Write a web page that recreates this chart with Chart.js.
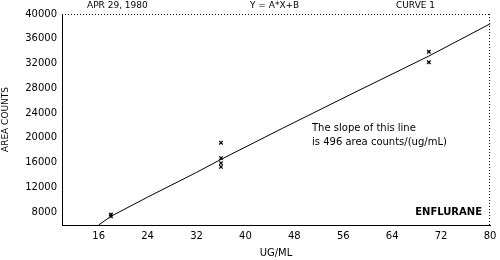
<!DOCTYPE html>
<html>
<head>
<meta charset="utf-8">
<script src="https://cdn.jsdelivr.net/npm/chart.js@4.4.0/dist/chart.umd.min.js"></script>
<style>
  html, body { margin: 0; padding: 0; background: #fff; }
  #wrap { position: relative; width: 500px; height: 260px; }
</style>
</head>
<body>
<div id="wrap"><canvas id="myChart" width="500" height="260"></canvas></div>
<script>
// calibration curve, enfluran (area counts vs ug/mL)

let lineX = [16, 18, 24, 32, 36, 46, 57, 70, 80];
let lineY = [5900, 7300, 10400, 14400, 16500, 21500, 26900, 33200, 38400];

let pointX = [18, 18, 36, 36, 36, 36, 70, 70];
let pointY = [7600, 7300, 19200, 16700, 15900, 15300, 33900, 32200];

let xTicks = [16, 24, 32, 40, 48, 56, 64, 72, 80];
let yTicks = [8000, 12000, 16000, 20000, 24000, 28000, 32000, 36000, 40000];

let font = 'DejaVu Sans';

// dotted top / right edges and header texts
let framePlugin = {
    id: 'frame',
    afterDraw(chart) {
        let ctx = chart.ctx;
        let a = chart.chartArea;
        ctx.save();
        ctx.strokeStyle = '#000';
        ctx.lineWidth = 1;
        ctx.setLineDash([1, 2]);
        ctx.beginPath();
        ctx.moveTo(a.left, a.top + 0.5);
        ctx.lineTo(a.right, a.top + 0.5);
        ctx.moveTo(a.right - 0.5, a.top);
        ctx.lineTo(a.right - 0.5, a.bottom);
        ctx.stroke();
        ctx.setLineDash([]);

        ctx.fillStyle = '#000';
        ctx.font = '9px ' + font;
        ctx.textBaseline = 'middle';
        ctx.textAlign = 'left';
        ctx.fillText('APR 29, 1980', 87, 6);
        ctx.fillText('Y = A*X+B', 250, 6);
        ctx.fillText('CURVE 1', 396, 6);

        ctx.font = '10px ' + font;
        ctx.fillText('The slope of this line', 312, 128);
        ctx.fillText('is 496 area counts/(ug/mL)', 312, 142);

        ctx.font = 'bold 10px ' + font;
        ctx.textAlign = 'right';
        ctx.fillText('ENFLURANE', 482, 212);
        ctx.restore();
    }
};

let ctx = document.querySelector('#myChart').getContext('2d');

let chart = new Chart(ctx, {
    type: 'scatter',
    data: {
        datasets: [{
            label: 'fit',
            data: lineX.map((x, i) => ({x: x, y: lineY[i]})),
            showLine: true,
            borderColor: '#000',
            borderWidth: 1,
            pointRadius: 0,
            tension: 0
        }, {
            label: 'samples',
            data: pointX.map((x, i) => ({x: x, y: pointY[i]})),
            pointStyle: 'crossRot',
            pointRadius: 2.5,
            borderColor: '#000',
            borderWidth: 1.2
        }]
    },
    options: {
        responsive: false,
        animation: false,
        layout: { padding: { left: 0, right: 10, top: 14, bottom: 0 } },
        plugins: {
            legend: { display: false },
            tooltip: { enabled: false }
        },
        scales: {
            x: {
                type: 'linear',
                min: 10,
                max: 80,
                afterBuildTicks: s => { s.ticks = xTicks.map(v => ({value: v})); },
                afterFit: s => { s.height = 35; },
                grid: { display: false, drawTicks: true, tickLength: 3 },
                border: { color: '#000', width: 1 },
                ticks: { color: '#000', font: { family: font, size: 10 }, padding: 2, maxRotation: 0 },
                title: { display: true, text: 'UG/ML', color: '#000', font: { family: font, size: 10 }, padding: { top: 0, bottom: 1 } }
            },
            y: {
                min: 5900,
                max: 40000,
                afterBuildTicks: s => { s.ticks = yTicks.map(v => ({value: v})); },
                afterFit: s => { s.width = 62; },
                grid: { display: false, drawTicks: true, tickLength: 3 },
                border: { color: '#000', width: 1 },
                ticks: { color: '#000', font: { family: font, size: 10 }, padding: 2, callback: v => String(v) },
                title: { display: true, text: 'AREA COUNTS', color: '#000', font: { family: font, size: 9 }, padding: 0 }
            }
        }
    },
    plugins: [framePlugin]
});
</script>
</body>
</html>
